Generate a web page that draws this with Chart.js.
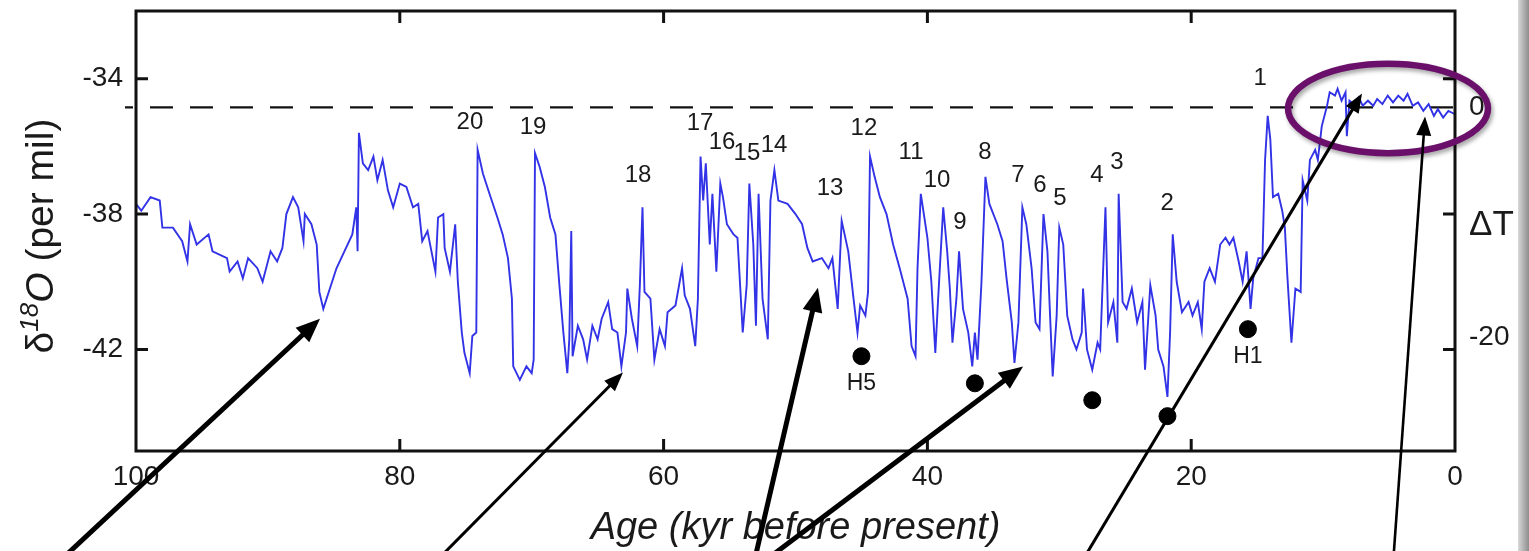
<!DOCTYPE html>
<html><head><meta charset="utf-8">
<script src="https://cdn.jsdelivr.net/npm/chart.js@4.4.0/dist/chart.umd.min.js"></script>
<style>
html,body{margin:0;padding:0;background:#fff;overflow:hidden}
#wrap{position:relative;width:1529px;height:551px;background:#fff}
#c{position:absolute;left:0;top:0}
#strip{position:absolute;left:1518px;top:0;width:11px;height:551px;background:linear-gradient(to right,#d8d8d8,#8e8e8e)}
</style></head><body>
<div id="wrap"><canvas id="c" width="1529" height="551"></canvas><div id="strip"></div></div>
<script>
// ---- data (age in kyr before present, δ18O in per mil) ----
const ages = [100.0,99.6,98.9,98.2,98.0,97.2,96.5,96.1,95.9,95.4,94.5,94.2,93.1,92.9,92.3,91.9,91.5,90.8,90.4,89.8,89.3,88.9,88.6,88.1,87.7,87.3,87.2,86.7,86.3,86.1,85.8,85.3,84.8,84.2,83.6,83.3,83.2,83.1,82.8,82.4,82.0,81.7,81.3,80.9,80.5,80.0,79.5,79.0,78.6,78.3,77.9,77.6,77.3,77.1,76.7,76.6,76.2,75.8,75.6,75.3,75.1,74.7,74.5,74.2,74.1,73.7,73.2,72.6,72.2,71.8,71.5,71.4,70.9,70.4,70.0,69.85,69.75,69.4,69.0,68.6,68.2,67.9,67.6,67.3,67.15,67.0,66.9,66.5,66.1,65.8,65.4,65.0,64.7,64.2,63.9,63.5,63.2,62.85,62.75,62.4,62.0,61.8,61.6,61.45,61.0,60.7,60.3,59.9,59.7,59.1,58.6,58.4,58.0,57.6,57.4,57.2,57.0,56.8,56.5,56.3,56.0,55.7,55.5,55.2,54.7,54.4,54.0,53.7,53.5,53.2,53.0,52.8,52.5,52.1,51.9,51.6,51.3,50.6,50.0,49.5,49.1,48.7,48.0,47.5,47.2,46.8,46.5,46.0,45.6,45.3,45.1,44.7,44.5,44.35,44.0,43.6,43.1,42.6,42.1,41.5,41.2,40.9,40.75,40.5,40.0,39.7,39.4,39.2,38.8,38.5,38.3,38.1,37.8,37.6,37.3,36.9,36.6,36.4,36.2,35.9,35.6,35.3,34.7,34.3,34.0,33.6,33.4,33.1,32.8,32.5,32.1,31.8,31.5,31.2,30.9,30.7,30.5,30.2,30.0,29.7,29.4,29.0,28.7,28.3,28.2,27.9,27.5,27.1,26.9,26.5,26.3,25.9,25.6,25.5,25.2,24.9,24.5,24.1,23.7,23.5,23.1,22.7,22.5,22.1,21.8,21.6,21.4,21.1,20.7,20.2,19.9,19.5,19.2,19.0,18.6,18.2,17.8,17.4,17.1,16.8,16.4,16.1,15.8,15.5,15.3,14.9,14.6,14.4,14.2,14.0,13.8,13.4,13.1,12.9,12.7,12.4,12.1,11.7,11.55,11.2,11.0,10.6,10.4,10.1,9.7,9.5,9.1,8.9,8.6,8.3,8.2,8.0,7.7,7.3,7.0,6.6,6.2,5.9,5.5,5.1,4.7,4.3,3.9,3.6,3.2,2.8,2.4,2.0,1.6,1.3,0.9,0.5,0.0];
const d18O = [-37.7,-37.9,-37.5,-37.6,-38.4,-38.4,-38.8,-39.4,-38.3,-38.9,-38.6,-39.1,-39.3,-39.7,-39.4,-39.9,-39.3,-39.6,-40.0,-39.1,-39.4,-39.0,-38.0,-37.5,-37.8,-38.8,-38.0,-38.3,-38.9,-40.3,-40.8,-40.2,-39.6,-39.1,-38.6,-37.8,-39.1,-35.6,-36.5,-36.7,-36.3,-37.0,-36.4,-37.3,-37.8,-37.1,-37.2,-37.8,-37.7,-38.8,-38.5,-39.1,-39.7,-38.1,-38.0,-39.0,-39.7,-38.3,-40.0,-41.5,-42.1,-42.7,-41.6,-41.5,-36.1,-36.8,-37.4,-38.1,-38.6,-39.3,-40.5,-42.5,-42.9,-42.5,-42.7,-42.3,-36.2,-36.6,-37.2,-38.1,-38.6,-40.1,-41.5,-42.7,-41.7,-38.5,-42.2,-41.3,-41.7,-42.3,-41.3,-41.7,-41.1,-40.6,-41.4,-41.5,-42.5,-41.5,-40.2,-41.1,-41.9,-40.1,-37.8,-40.3,-40.5,-42.3,-41.4,-41.9,-40.9,-40.7,-39.6,-40.4,-40.8,-41.9,-40.5,-36.3,-37.6,-36.5,-38.9,-37.4,-39.7,-37.1,-37.5,-38.3,-38.6,-38.7,-41.5,-40.1,-37.1,-38.9,-41.3,-37.4,-40.5,-41.7,-37.6,-36.7,-37.6,-37.7,-38.0,-38.3,-39.0,-39.4,-39.3,-39.6,-39.3,-40.8,-38.2,-39.1,-40.5,-41.5,-40.7,-41.0,-40.3,-36.3,-36.9,-37.5,-38.0,-38.9,-39.6,-40.5,-41.9,-42.2,-39.6,-37.4,-38.7,-40.0,-42.1,-40.6,-37.8,-39.1,-40.2,-41.8,-40.5,-39.1,-40.8,-41.5,-42.5,-41.5,-42.3,-40.0,-36.9,-37.7,-38.3,-38.8,-39.9,-41.2,-42.4,-41.2,-37.8,-38.3,-39.6,-41.2,-41.4,-38.0,-39.1,-41.0,-42.8,-41.0,-38.4,-38.9,-41.0,-41.7,-42.0,-41.5,-40.2,-42.0,-42.6,-41.8,-42.0,-37.8,-41.2,-40.6,-41.8,-37.4,-40.6,-40.8,-40.2,-41.2,-40.6,-42.6,-40.1,-41.0,-42.0,-42.5,-43.4,-41.5,-38.6,-40.0,-40.9,-40.6,-41.0,-40.6,-41.4,-40.0,-39.6,-40.0,-38.9,-38.7,-38.9,-38.7,-39.4,-40.0,-39.1,-40.8,-39.9,-39.3,-39.3,-36.4,-35.1,-35.8,-37.5,-37.4,-37.9,-38.4,-39.9,-41.8,-40.2,-40.3,-37.0,-37.6,-36.4,-36.1,-36.4,-35.4,-34.8,-34.4,-34.5,-34.3,-34.65,-34.4,-35.7,-34.65,-34.75,-34.55,-34.8,-34.65,-34.8,-34.6,-34.75,-34.5,-34.7,-34.5,-34.65,-34.45,-34.8,-34.7,-34.95,-34.75,-35.1,-34.9,-35.15,-34.95,-35.05];

const ageTicks = [100, 80, 60, 40, 20, 0];
const d18OTicks = [-42, -38, -34];
const deltaTLabels = ['0', 'ΔT', '-20'];
const deltaTLevels = [-34.85, -38.32, -41.65];
const presentLevel = -34.85;

const eventNames = ['1','2','3','4','5','6','7','8','9','10','11','12','13','14','15','16','17','18','19','20'];
const eventAges  = [14.78,21.83,25.63,27.14,29.95,31.46,33.13,35.63,37.53,39.27,41.24,44.81,47.38,51.63,53.68,55.57,57.24,61.94,69.9,74.68];
const eventVals  = [-34.0,-37.68,-36.47,-36.85,-37.53,-37.15,-36.85,-36.18,-38.24,-37.0,-36.18,-35.47,-37.24,-35.97,-36.2,-35.88,-35.32,-36.85,-35.44,-35.3];

const heinrichAges = [45.0, 36.4, 27.5, 21.8, 15.7];
const heinrichVals = [-42.2, -43.0, -43.5, -43.97, -41.4];
const heinrichNames = ['H5', '', '', '', 'H1'];
const heinrichLabelVals = [-43.0, null, null, null, -42.2];

// arrows: [age, value] of tail (below the figure) and head
const arrowTails = [[106.8,-48.62],[78.17,-48.62],[53.34,-48.62],[53.6,-48.62],[28.83,-48.62],[4.75,-48.62]];
const arrowHeads = [[86.05,-41.09],[63.08,-42.68],[48.3,-40.18],[32.75,-42.5],[7.05,-34.44],[2.27,-35.12]];
const arrowWidths = [5, 3, 5, 5, 3, 2.6];

const holoceneCenter = [5.08, -34.88];
const holoceneHalfSize = [7.58, 1.32];

const FONT = "'Liberation Sans', Arial, Helvetica, sans-serif";

const decor = {
  id: 'decor',
  beforeDatasetsDraw(chart) {
    const {ctx, chartArea: ca, scales: {y}} = chart;
    const py = y.getPixelForValue(presentLevel);
    ctx.save();
    ctx.strokeStyle = '#111';
    ctx.lineWidth = 2.2;
    ctx.setLineDash([23, 17]);
    ctx.lineDashOffset = 15;
    ctx.beginPath();
    ctx.moveTo(ca.left - 11, py);
    ctx.lineTo(ca.right, py);
    ctx.stroke();
    ctx.restore();
  },
  afterDraw(chart) {
    const {ctx, chartArea: ca, scales: {x, y}} = chart;
    ctx.save();
    // frame
    ctx.strokeStyle = '#111';
    ctx.lineWidth = 3;
    ctx.strokeRect(ca.left, ca.top, ca.right - ca.left, ca.bottom - ca.top);
    // inward ticks
    ctx.lineWidth = 3;
    ctx.beginPath();
    d18OTicks.forEach(v => {
      const p = y.getPixelForValue(v);
      ctx.moveTo(ca.left, p); ctx.lineTo(ca.left + 12, p);
      ctx.moveTo(ca.right, p); ctx.lineTo(ca.right - 12, p);
    });
    ageTicks.slice(1, -1).forEach(a => {
      const p = x.getPixelForValue(a);
      ctx.moveTo(p, ca.bottom); ctx.lineTo(p, ca.bottom - 12);
      ctx.moveTo(p, ca.top); ctx.lineTo(p, ca.top + 12);
    });
    ctx.stroke();

    // event numbers
    ctx.fillStyle = '#1a1a1a';
    ctx.textAlign = 'center';
    ctx.textBaseline = 'middle';
    ctx.font = `24px ${FONT}`;
    eventNames.forEach((n, i) => {
      ctx.fillText(n, x.getPixelForValue(eventAges[i]), y.getPixelForValue(eventVals[i]));
    });
    ctx.font = `23px ${FONT}`;
    heinrichNames.forEach((n, i) => {
      if (n) ctx.fillText(n, x.getPixelForValue(heinrichAges[i]), y.getPixelForValue(heinrichLabelVals[i]));
    });

    // y-axis title: δ18O (per mil)
    ctx.save();
    ctx.translate(42, (ca.top + ca.bottom) / 2 + 5);
    ctx.rotate(-Math.PI / 2);
    ctx.textAlign = 'left';
    ctx.textBaseline = 'middle';
    const parts = [
      {t: 'δ', f: `39px ${FONT}`, dy: 0},
      {t: '18', f: `italic 26px ${FONT}`, dy: -11},
      {t: 'O', f: `italic 39px ${FONT}`, dy: 0},
      {t: ' (per mil)', f: `39px ${FONT}`, dy: 0}
    ];
    let total = 0;
    parts.forEach(p => { ctx.font = p.f; p.w = ctx.measureText(p.t).width; total += p.w; });
    let cx = -total / 2;
    parts.forEach(p => { ctx.font = p.f; ctx.fillText(p.t, cx, p.dy); cx += p.w; });
    ctx.restore();

    // ellipse around the Holocene
    const ex = x.getPixelForValue(holoceneCenter[0]);
    const ey = y.getPixelForValue(holoceneCenter[1]);
    const rx = Math.abs(x.getPixelForValue(holoceneCenter[0] + holoceneHalfSize[0]) - ex);
    const ry = Math.abs(y.getPixelForValue(holoceneCenter[1] + holoceneHalfSize[1]) - ey);
    ctx.save();
    ctx.shadowColor = 'rgba(0,0,0,0.35)';
    ctx.shadowBlur = 4;
    ctx.shadowOffsetX = 2;
    ctx.shadowOffsetY = 3;
    ctx.strokeStyle = '#6a0f6a';
    ctx.lineWidth = 6.5;
    ctx.beginPath();
    ctx.ellipse(ex, ey, rx, ry, 0, 0, Math.PI * 2);
    ctx.stroke();
    ctx.restore();

    // arrows
    ctx.fillStyle = '#000';
    ctx.strokeStyle = '#000';
    arrowTails.forEach((t, i) => {
      const x0 = x.getPixelForValue(t[0]), y0 = y.getPixelForValue(t[1]);
      const x1 = x.getPixelForValue(arrowHeads[i][0]), y1 = y.getPixelForValue(arrowHeads[i][1]);
      const w = arrowWidths[i];
      const len = Math.hypot(x1 - x0, y1 - y0);
      const ux = (x1 - x0) / len, uy = (y1 - y0) / len;
      const hl = w >= 4 ? 24 : 19, hw = w >= 4 ? 10 : 7.5;
      ctx.lineWidth = w;
      ctx.beginPath();
      ctx.moveTo(x0, y0);
      ctx.lineTo(x1 - ux * hl * 0.8, y1 - uy * hl * 0.8);
      ctx.stroke();
      ctx.beginPath();
      ctx.moveTo(x1, y1);
      ctx.lineTo(x1 - ux * hl - uy * hw, y1 - uy * hl + ux * hw);
      ctx.lineTo(x1 - ux * hl + uy * hw, y1 - uy * hl - ux * hw);
      ctx.closePath();
      ctx.fill();
    });
    ctx.restore();
  }
};

function noPadV(s) { s.paddingTop = 0; s.paddingBottom = 0; }

new Chart(document.getElementById('c'), {
  type: 'line',
  data: {
    datasets: [
      {
        label: 'δ18O',
        data: ages.map((a, i) => ({x: a, y: d18O[i]})),
        borderColor: '#3232e6',
        borderWidth: 1.9,
        pointRadius: 0,
        tension: 0,
        yAxisID: 'y',
        order: 2
      },
      {
        type: 'scatter',
        label: 'Heinrich events',
        data: heinrichAges.map((a, i) => ({x: a, y: heinrichVals[i]})),
        backgroundColor: '#000',
        borderColor: '#000',
        pointRadius: 8.5,
        yAxisID: 'y',
        order: 1
      }
    ]
  },
  options: {
    responsive: false,
    animation: false,
    devicePixelRatio: 1,
    layout: {padding: {top: 11, left: 0, right: 0, bottom: 0}},
    plugins: {legend: {display: false}, tooltip: {enabled: false}},
    scales: {
      x: {
        type: 'linear', reverse: true, min: 0, max: 100,
        afterFit(s) { s.height = 100; s.paddingLeft = 0; s.paddingRight = 0; },
        afterBuildTicks(s) { s.ticks = ageTicks.map(v => ({value: v})); },
        grid: {display: false, drawTicks: false},
        border: {display: false},
        ticks: {font: {family: FONT, size: 28}, color: '#1a1a1a', padding: 9, maxRotation: 0, autoSkip: false, callback: v => String(v)},
        title: {display: true, text: 'Age (kyr before present)', font: {family: FONT, size: 38, style: 'italic'}, color: '#1a1a1a', padding: {top: 0, bottom: 0}}
      },
      y: {
        position: 'left', min: -45, max: -32,
        afterFit(s) { s.width = 136; noPadV(s); },
        afterBuildTicks(s) { s.ticks = d18OTicks.map(v => ({value: v})); },
        grid: {display: false, drawTicks: false},
        border: {display: false},
        ticks: {font: {family: FONT, size: 28}, color: '#1a1a1a', padding: 13, callback: v => String(v)}
      },
      y2: {
        position: 'right', min: -45, max: -32,
        afterFit(s) { s.width = 74; noPadV(s); },
        afterBuildTicks(s) { s.ticks = deltaTLevels.map(v => ({value: v})); },
        grid: {display: false, drawTicks: false},
        border: {display: false},
        ticks: {
          font: (ctx) => ({family: FONT, size: ctx.index === 1 ? 35 : 28}),
          color: '#1a1a1a', padding: 14,
          callback: (v, i) => deltaTLabels[i]
        }
      }
    }
  },
  plugins: [decor]
});
</script>
</body></html>
